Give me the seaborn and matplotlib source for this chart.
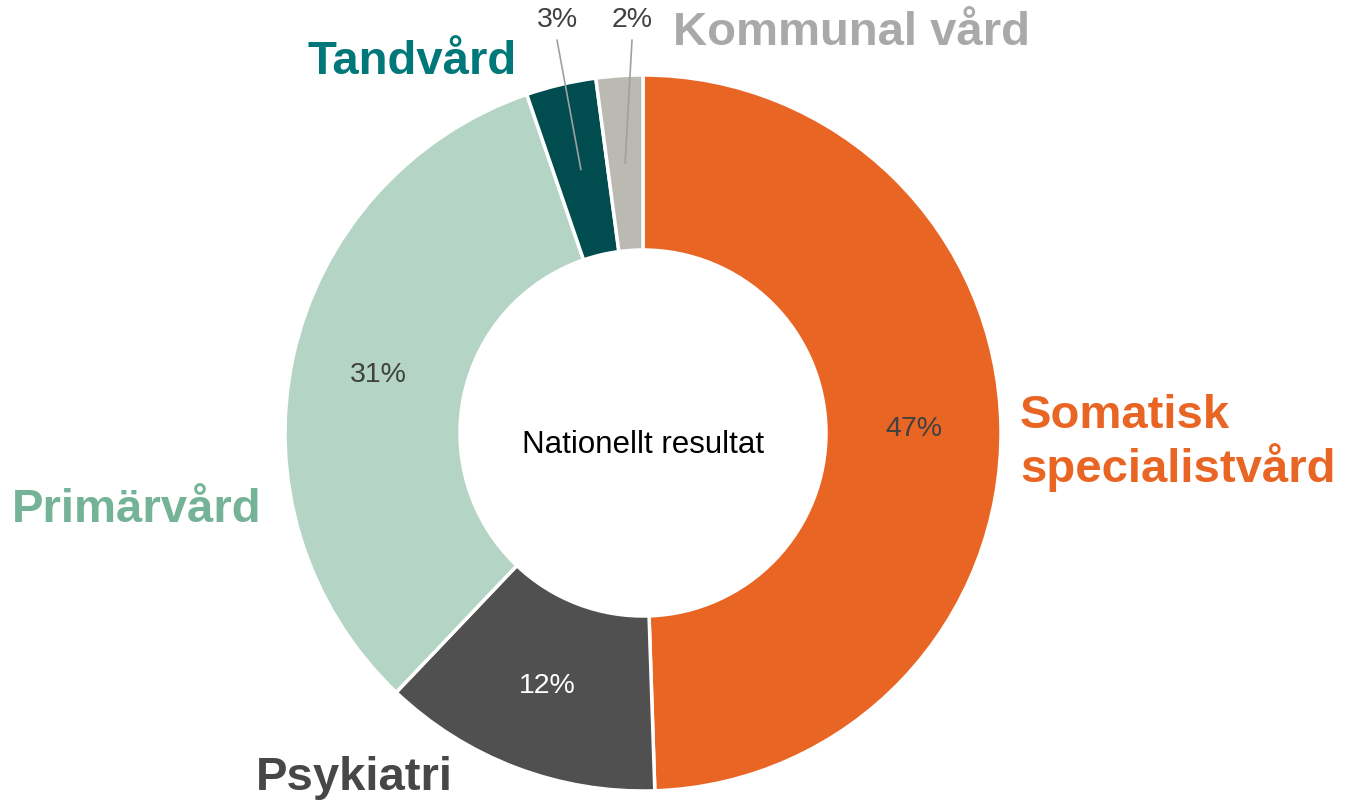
import numpy as np
import matplotlib.pyplot as plt
import seaborn as sns

# data (shares in percent, clockwise from 12 o'clock)
categories = ["Somatisk\nspecialistvård", "Psykiatri", "Primärvård", "Tandvård", "Kommunal vård"]
shares = [47, 12, 31, 3, 2]
pct_labels = ["47%", "12%", "31%", "3%", "2%"]
center_text = "Nationellt resultat"

wedge_colors = ["#E96524", "#505050", "#B4D5C5", "#004C4F", "#BBBAB2"]
label_colors = ["#E96524", "#474747", "#74B398", "#00787A", "#A9A9A9"]
pct_colors = ["#404040", "#FFFFFF", "#404040", "#404040", "#404040"]

sns.set_theme(style="white")
plt.rcParams["font.family"] = ["Liberation Sans", "DejaVu Sans"]

W, H = 1346, 807
fig = plt.figure(figsize=(W / 100, H / 100), dpi=100)
ax = fig.add_axes([0, 0, 1, 1])

cx, cy = 643, H - 433
r_out, r_in = 358, 183

wedges, _ = ax.pie(shares, colors=wedge_colors, startangle=90, counterclock=False,
                   center=(cx, cy), radius=r_out, frame=True,
                   wedgeprops=dict(width=r_out - r_in, edgecolor="white", linewidth=2.5))
ax.set_xlim(0, W)
ax.set_ylim(0, H)
ax.set_aspect("equal")
ax.axis("off")

r_mid = (r_out + r_in) / 2
for i, w in enumerate(wedges):
    ang = np.deg2rad((w.theta1 + w.theta2) / 2)
    mx, my = cx + r_mid * np.cos(ang), cy + r_mid * np.sin(ang)
    if shares[i] >= 10:
        ax.text(mx, my, pct_labels[i], ha="center", va="center",
                fontsize=20.5, color=pct_colors[i])
    else:
        # small slices: label above the ring with a leader line
        tx = {3: 557, 4: 632}[i]
        ty = H - 20
        ax.plot([mx, tx], [my, ty - 20], color="#A0A0A0", lw=1.2)
        ax.text(tx, ty, pct_labels[i], ha="center", va="center",
                fontsize=20.5, color=pct_colors[i])

ax.text(cx, cy - 12, center_text, ha="center", va="center", fontsize=22.5, color="black")

# category labels
label_pos = [(1020, H - 443, "left"), (354, H - 778, "center"), (12, H - 510, "left"),
             (307, H - 62, "left"), (673, H - 33, "left")]
for name, col, (x, y, ha) in zip(categories, label_colors, label_pos):
    ax.text(x, y, name, ha=ha, va="center", fontsize=34, fontweight="bold",
            color=col, linespacing=1.12)

fig.savefig("out.png", dpi=100, facecolor="white")
